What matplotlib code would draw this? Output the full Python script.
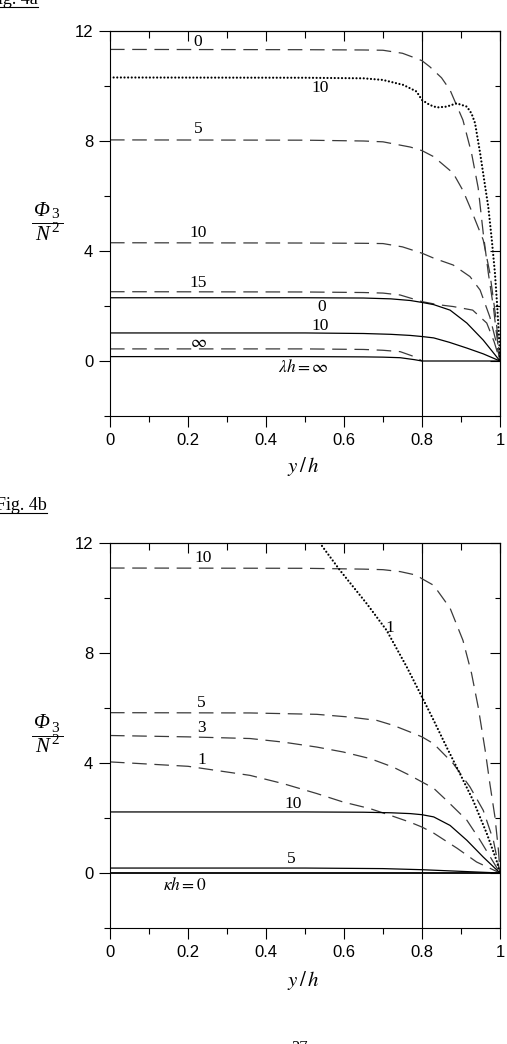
import numpy as np
import matplotlib as mpl
import matplotlib.pyplot as plt
from matplotlib.lines import Line2D
from matplotlib.ticker import MultipleLocator

mpl.rcParams['lines.scale_dashes'] = False
mpl.rcParams['mathtext.fontset'] = 'stix'

# ---------------- Fig. 4a : curves ----------------
# dashed family
a_d0_x = [0, 0.5, 0.65, 0.7, 0.75, 0.786, 0.8, 0.82, 0.85, 0.872, 0.905, 0.927, 0.944, 0.957, 0.97, 0.983, 0.991, 1.0]
a_d0_y = [11.33, 11.32, 11.31, 11.3, 11.19, 11.0, 10.92, 10.7, 10.3, 9.85, 8.76, 7.56, 6.3, 4.65, 3.2, 1.97, 1.0, 0]
a_d5_x = [0, 0.5, 0.65, 0.7, 0.744, 0.77, 0.8, 0.83, 0.88, 0.905, 0.923, 0.94, 0.957, 0.974, 0.99, 1.0]
a_d5_y = [8.04, 8.03, 8.0, 7.97, 7.85, 7.78, 7.65, 7.43, 6.83, 6.2, 5.6, 5.0, 4.4, 3.2, 1.5, 0]
a_d10_x = [0, 0.5, 0.65, 0.7, 0.75, 0.8, 0.83, 0.88, 0.923, 0.949, 0.974, 0.99, 1.0]
a_d10_y = [4.30, 4.29, 4.28, 4.27, 4.15, 3.92, 3.74, 3.49, 3.07, 2.58, 1.6, 0.7, 0]
a_d15_x = [0, 0.5, 0.65, 0.7, 0.744, 0.8, 0.84, 0.88, 0.93, 0.966, 0.985, 1.0]
a_d15_y = [2.52, 2.51, 2.49, 2.47, 2.4, 2.16, 2.05, 1.98, 1.85, 1.38, 0.7, 0]
a_dinf_x = [0, 0.5, 0.65, 0.7, 0.744, 0.786, 0.8]
a_dinf_y = [0.44, 0.44, 0.42, 0.39, 0.34, 0.13, 0.0]
# solid family
a_s0_x = [0, 0.5, 0.65, 0.72, 0.77, 0.8, 0.83, 0.872, 0.915, 0.957, 1.0]
a_s0_y = [2.30, 2.30, 2.29, 2.26, 2.2, 2.13, 2.05, 1.85, 1.38, 0.76, 0]
a_s10_x = [0, 0.5, 0.65, 0.72, 0.77, 0.8, 0.83, 0.87, 0.915, 0.957, 1.0]
a_s10_y = [1.02, 1.02, 1.0, 0.97, 0.93, 0.89, 0.84, 0.68, 0.47, 0.26, 0]
a_sinf_x = [0, 0.5, 0.65, 0.7, 0.744, 0.78, 0.8, 1.0]
a_sinf_y = [0.16, 0.16, 0.15, 0.14, 0.12, 0.05, 0, 0]
# dotted
a_p10_x = [0, 0.5, 0.65, 0.7, 0.752, 0.786, 0.8, 0.82, 0.838, 0.863, 0.889, 0.915, 0.927, 0.936, 0.949,
           0.962, 0.97, 0.979, 0.987, 0.993, 0.998, 1.0]
a_p10_y = [10.31, 10.3, 10.28, 10.22, 10.04, 9.8, 9.49, 9.31, 9.22, 9.25, 9.37, 9.25, 9.0, 8.65, 7.56,
           6.34, 5.6, 4.4, 3.2, 1.97, 0.76, 0]

# ---------------- Fig. 4b ----------------
b_d10_x = [0, 0.5, 0.65, 0.7, 0.744, 0.786, 0.8, 0.83, 0.872, 0.905, 0.927, 0.944, 0.962, 0.974, 0.987, 0.996, 1.0]
b_d10_y = [11.09, 11.08, 11.05, 11.03, 10.96, 10.83, 10.7, 10.46, 9.63, 8.46, 7.26, 6.04, 4.46, 3.25, 2.04, 0.83, 0]
b_d5_x = [0, 0.36, 0.53, 0.615, 0.684, 0.726, 0.769, 0.8, 0.83, 0.88, 0.923, 0.957, 0.983, 1.0]
b_d5_y = [5.83, 5.82, 5.77, 5.67, 5.55, 5.37, 5.13, 4.95, 4.7, 3.98, 3.13, 2.28, 1.19, 0]
b_d3_x = [0, 0.2, 0.359, 0.444, 0.53, 0.598, 0.667, 0.726, 0.769, 0.8, 0.83, 0.863, 0.915, 0.949, 1.0]
b_d3_y = [5.0, 4.95, 4.89, 4.76, 4.58, 4.4, 4.16, 3.85, 3.55, 3.31, 3.08, 2.64, 1.92, 1.19, 0]
b_d1_x = [0, 0.2, 0.359, 0.444, 0.53, 0.598, 0.667, 0.718, 0.769, 0.8, 0.83, 0.89, 0.94, 1.0]
b_d1_y = [4.04, 3.88, 3.55, 3.25, 2.89, 2.58, 2.34, 2.1, 1.85, 1.67, 1.45, 0.9, 0.4, 0]
b_s10_x = [0, 0.5, 0.65, 0.72, 0.77, 0.8, 0.83, 0.872, 0.915, 0.957, 1.0]
b_s10_y = [2.22, 2.22, 2.21, 2.19, 2.16, 2.12, 2.04, 1.73, 1.19, 0.58, 0]
b_s5_x = [0, 0.5, 0.7, 0.8, 0.9, 1.0]
b_s5_y = [0.18, 0.18, 0.16, 0.12, 0.06, 0]
b_s0_x = [0, 1.0]
b_s0_y = [0, 0]
b_p1_x = [0.538, 0.59, 0.658, 0.709, 0.761, 0.8, 0.83, 0.863, 0.897, 0.931, 0.966, 0.991, 1.0]
b_p1_y = [12, 11.0, 9.8, 8.83, 7.49, 6.4, 5.55, 4.58, 3.62, 2.64, 1.44, 0.46, 0]

# curve labels: (x, y, text)
a_labels = [(0.226, 11.61, '0'), (0.538, 9.92, '10'), (0.226, 8.44, '5'), (0.226, 4.67, '10'),
            (0.226, 2.85, '15'), (0.543, 1.95, '0'), (0.540, 1.27, '10'), (0.226, 0.67, r'$\infty$'),
            (0.495, -0.24, r'$\lambda h = \infty$')]
b_labels = [(0.238, 11.44, '10'), (0.718, 8.9, '1'), (0.235, 6.17, '5'), (0.235, 5.26, '3'),
            (0.235, 4.10, '1'), (0.469, 2.5, '10'), (0.466, 0.52, '5'), (0.192, -0.45, r'$\kappa h = 0$')]

DASH = dict(color='#3a3a3a', lw=0.9, dashes=(10.5, 5.5))
SOLID = dict(color='black', lw=0.9)
DOT = dict(color='black', lw=1.6, dashes=(0.01, 2.6), dash_capstyle='round')
SERIF = 'Liberation Serif'

W, H = 507, 1044
fig = plt.figure(figsize=(W / 100, H / 100), dpi=100)


def px(x, y):
    return x / W, 1 - y / H


def setup(ax):
    ax.set_xlim(0, 1)
    ax.set_ylim(-2, 12)
    ax.xaxis.set_major_locator(MultipleLocator(0.2))
    ax.xaxis.set_minor_locator(MultipleLocator(0.1))
    ax.yaxis.set_major_locator(MultipleLocator(4))
    ax.yaxis.set_minor_locator(MultipleLocator(2))
    ax.xaxis.set_major_formatter(mpl.ticker.FuncFormatter(lambda v, p: '%g' % round(v, 1)))
    ax.tick_params(which='major', direction='out', length=8, width=0.8, labelsize=12, pad=4)
    ax.tick_params(which='minor', direction='out', length=4, width=0.8)
    for lab in ax.get_xticklabels() + ax.get_yticklabels():
        lab.set_family('Liberation Sans')
    for s in ax.spines.values():
        s.set_linewidth(0.8)
    top = ax.secondary_xaxis('top')
    top.xaxis.set_major_locator(MultipleLocator(0.2))
    top.xaxis.set_minor_locator(MultipleLocator(0.1))
    top.tick_params(which='major', direction='in', length=7, width=0.8, labeltop=False)
    top.tick_params(which='minor', direction='in', length=5, width=0.8)
    right = ax.secondary_yaxis('right')
    right.yaxis.set_major_locator(MultipleLocator(4))
    right.yaxis.set_minor_locator(MultipleLocator(2))
    right.tick_params(which='major', direction='in', length=7, width=0.8, labelright=False)
    right.tick_params(which='minor', direction='in', length=3.5, width=0.8)
    ax.axvline(0.8, color='black', lw=0.8)


def ylabel(cy):
    # Phi_3 over N^2, built from pieces so that Phi is italic
    fig.text(*px(42, cy - 12), '\u03a6', ha='center', va='center', fontsize=15,
             family=SERIF, style='italic')
    fig.text(*px(54.5, cy - 8), '3', ha='center', va='center', fontsize=11, family=SERIF)
    fig.add_artist(Line2D([32 / W, 63 / W], [1 - (cy - 0.5) / H] * 2, color='black', lw=0.7))
    fig.text(*px(42, cy + 12), 'N', ha='center', va='center', fontsize=15,
             family=SERIF, style='italic')
    fig.text(*px(55.5, cy + 5), '2', ha='center', va='center', fontsize=11, family=SERIF)


# ---------------- top panel ----------------
ax1 = fig.add_axes([110 / W, 1 - 416 / H, 390 / W, 385 / H])
setup(ax1)
for xs, ys in [(a_d0_x, a_d0_y), (a_d5_x, a_d5_y), (a_d10_x, a_d10_y), (a_d15_x, a_d15_y), (a_dinf_x, a_dinf_y)]:
    ax1.plot(xs, ys, **DASH)
for xs, ys in [(a_s0_x, a_s0_y), (a_s10_x, a_s10_y), (a_sinf_x, a_sinf_y)]:
    ax1.plot(xs, ys, **SOLID)
ax1.plot(a_p10_x, a_p10_y, **DOT)
for x, y, t in a_labels:
    ax1.text(x, y, t, ha='center', va='center', fontsize=12.5, family=SERIF)

# ---------------- bottom panel ----------------
ax2 = fig.add_axes([110 / W, 1 - 928 / H, 390 / W, 385 / H])
setup(ax2)
for xs, ys in [(b_d10_x, b_d10_y), (b_d5_x, b_d5_y), (b_d3_x, b_d3_y), (b_d1_x, b_d1_y)]:
    ax2.plot(xs, ys, **DASH)
for xs, ys in [(b_s10_x, b_s10_y), (b_s5_x, b_s5_y)]:
    ax2.plot(xs, ys, **SOLID)
ax2.plot(b_s0_x, b_s0_y, color='black', lw=1.3)
ax2.plot(b_p1_x, b_p1_y, **DOT)
for x, y, t in b_labels:
    ax2.text(x, y, t, ha='center', va='center', fontsize=12.5, family=SERIF)

# axis titles
ylabel(223)
ylabel(736)
fig.text(*px(303, 467), r'$y\,/\,h$', ha='center', va='center', fontsize=15)
fig.text(*px(303, 980), r'$y\,/\,h$', ha='center', va='center', fontsize=15)

# figure captions (underlined); the page cuts them at its edge as in the source
fig.text(*px(38, 4), 'Fig. 4a', ha='right', va='baseline', fontsize=13, family=SERIF)
fig.add_artist(Line2D([0, 38 / W], [1 - 6.5 / H] * 2, color='black', lw=0.8))
fig.text(*px(47, 510), 'Fig. 4b', ha='right', va='baseline', fontsize=13, family=SERIF)
fig.add_artist(Line2D([0, 47 / W], [1 - 513 / H] * 2, color='black', lw=0.8))
fig.text(*px(300, 1040), '27', ha='center', va='top', fontsize=12, family=SERIF)

fig.savefig('out.png', dpi=100)
